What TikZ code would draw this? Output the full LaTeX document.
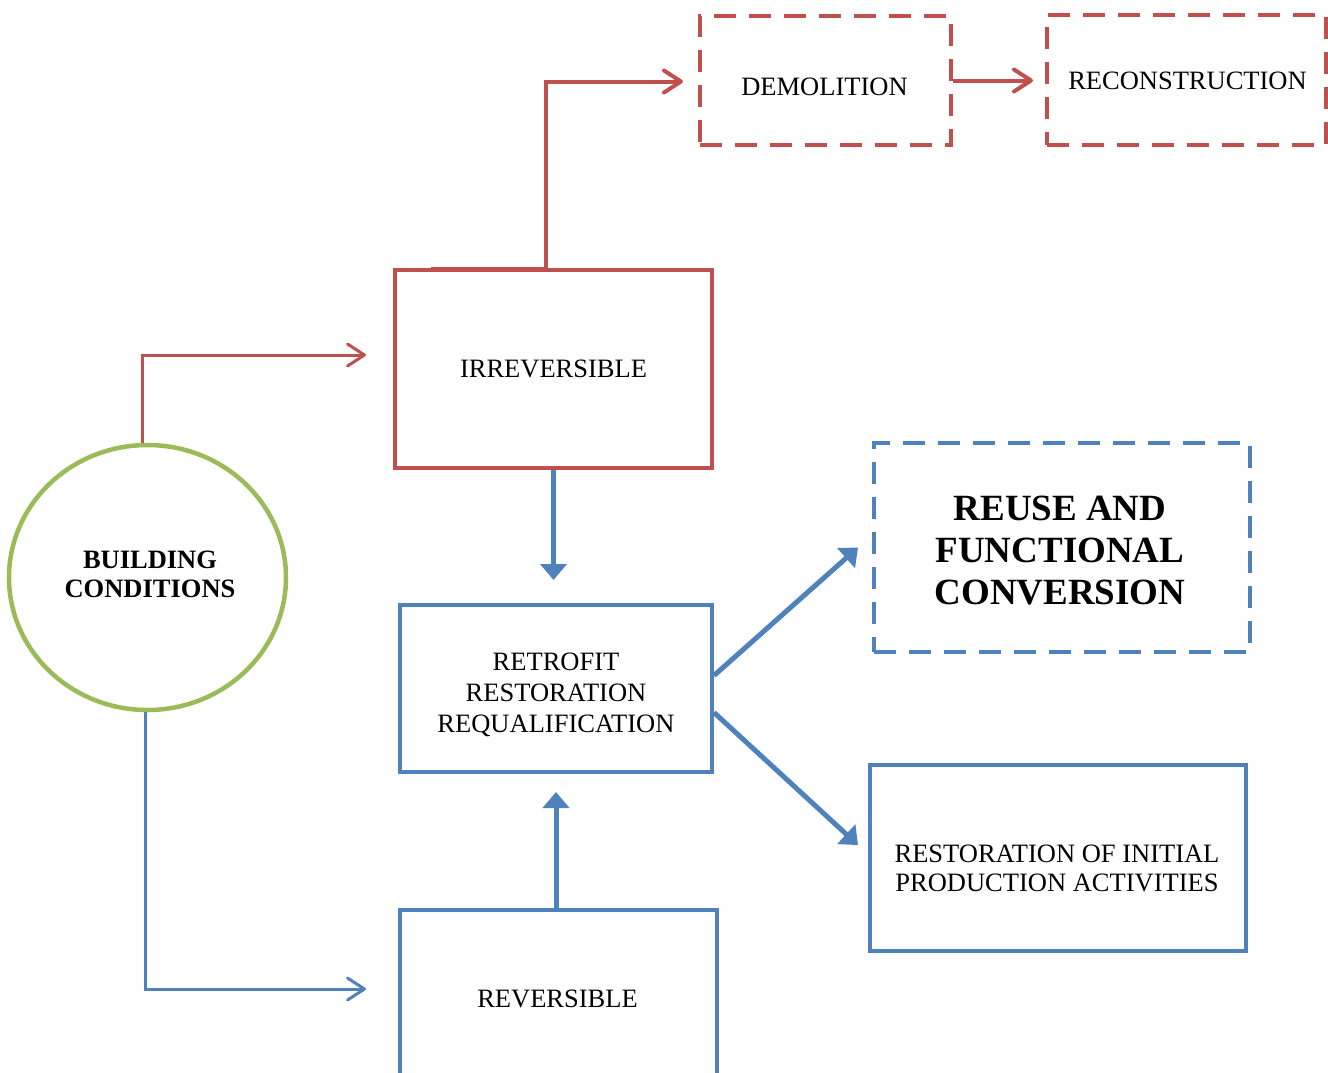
\documentclass[tikz,border=0pt]{standalone}
\usepackage{fontspec}
\setmainfont{Liberation Serif}[BoldFont={Liberation Serif Bold}]
\usetikzlibrary{arrows.meta,shapes.geometric,calc}
\definecolor{flowred}{HTML}{C0504D}
\definecolor{flowblue}{HTML}{4F81BD}
\definecolor{flowgreen}{HTML}{9BBB59}
\begin{document}
\begin{tikzpicture}[x=1pt,y=-1pt,
  txt/.style={font=\fontsize{26.5}{31}\selectfont, align=center, inner sep=0pt},
  boldtxt/.style={txt, font=\bfseries\fontsize{26.5}{29}\selectfont},
  redbox/.style={draw=flowred, line width=4pt, rectangle, inner sep=0pt},
  bluebox/.style={draw=flowblue, line width=4pt, rectangle, inner sep=0pt},
  dashpat/.style={dash pattern=on 22pt off 13pt},
  barb/.style={-{Straight Barb[length=17pt,width=22pt,round]}},
  redthin/.style={draw=flowred, line width=3pt, barb},
  redthick/.style={draw=flowred, line width=4pt, barb},
  bluethin/.style={draw=flowblue, line width=3pt, barb},
  bluefill/.style={draw=flowblue, line width=5pt, -{Triangle[length=16pt,width=26pt]}}
]
\useasboundingbox (0,0) rectangle (1328,1072);
\clip (0,0) rectangle (1328,1072);

% central column
\node[redbox, minimum width=317pt, minimum height=198pt] (irr) at (553.5,369) {};
\node[bluebox, minimum width=312pt, minimum height=167pt] (retro) at (556,688.5) {};
\node[bluebox, minimum width=317pt, minimum height=178pt] (rev) at (558.5,999) {};

% top row
\node[redbox, dashpat, minimum width=251pt, minimum height=129pt] (demo) at (825.5,80.5) {};
\node[redbox, dashpat, minimum width=279pt, minimum height=130pt] (recon) at (1186.5,79.5) {};

% outcomes
\node[bluebox, dashpat, minimum width=376pt, minimum height=209pt] (reuse) at (1062,547.5) {};
\node[bluebox, minimum width=376pt, minimum height=186pt] (rest) at (1058,858) {};

% starting condition
\node[ellipse, draw=flowgreen, line width=4.5pt, minimum width=277pt, minimum height=265pt,
  inner sep=0pt] (cond) at (147.5,577.5) {};

% labels
\node[txt] (irr-l) at ($(irr)+(0,0)$) {IRREVERSIBLE};
\node[txt] (retro-l) at ($(retro)+(0,6.5)$) {RETROFIT\\RESTORATION\\REQUALIFICATION};
\node[txt] (rev-l) at ($(rev)+(-1,0)$) {REVERSIBLE};
\node[txt] (demo-l) at ($(demo)+(-1,6.5)$) {DEMOLITION};
\node[txt] (recon-l) at ($(recon)+(1,1)$) {RECONSTRUCTION};
\node[txt, font=\bfseries\fontsize{37}{42}\selectfont] (reuse-l) at ($(reuse)+(-2,3)$)
  {REUSE AND\\FUNCTIONAL\\CONVERSION};
\node[txt, font=\fontsize{26.5}{29}\selectfont] (rest-l) at ($(rest)+(-1,10.5)$)
  {RESTORATION OF INITIAL\\PRODUCTION ACTIVITIES};
\node[boldtxt] (cond-l) at ($(cond)+(2.5,-3)$) {BUILDING\\CONDITIONS};

% connectors
\draw[redthin] ($(cond.north)+(-5,0)$) |- ($(irr.west)+(-27,-14)$);
\draw[bluethin] ($(cond.south)+(-2,0)$) |- ($(rev.west)+(-32,-10)$);
\draw[redthick] ($(irr.north)+(-123,1)$) -- ($(irr.north)+(-8,1)$) |- ($(demo.west)+(-15,1)$);
\draw[redthick] (demo.east) -- ($(demo.east -| recon.west)+(-12,0)$);
\draw[bluefill] (irr.south) -- ($(irr.south |- retro.north)+(0,-23)$);
\draw[bluefill] (rev.north -| retro.south) -- ($(retro.south)+(0,18)$);
\draw[bluefill] ($(retro.east)+(0,-13)$) -- ($(reuse.west)+(-14,0)$);
\draw[bluefill] ($(retro.east)+(0,24)$) -- ($(rest.west)+(-10,-13)$);
\end{tikzpicture}
\end{document}
